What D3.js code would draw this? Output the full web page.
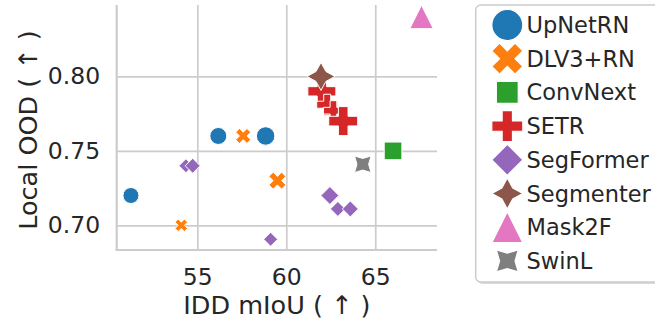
<!DOCTYPE html>
<html>
<head>
<meta charset="utf-8">
<script src="https://cdn.jsdelivr.net/npm/d3@7"></script>
<style>
  body { margin: 0; background: #fff; }
  svg { display: block; font-family: 'DejaVu Sans', sans-serif; }
</style>
</head>
<body>
<div id="svg-container"></div>
<script>
const models = ['UpNetRN', 'DLV3+RN', 'ConvNext', 'SETR', 'SegFormer', 'Segmenter', 'Mask2F', 'SwinL'];
const colors = ['#1f77b4', '#ff7f0e', '#2ca02c', '#d62728', '#9467bd', '#8c564b', '#e377c2', '#7f7f7f'];
const shapes = ['circle', 'x', 'square', 'plus', 'diamond', 'star', 'triangle', 'star45'];

// one entry per point
const pointModel = [0, 0, 0, 1, 1, 1, 2, 3, 3, 3, 3, 4, 4, 4, 4, 4, 4, 5, 6, 7];
const iddMiou = [51.27, 56.18, 58.84, 57.58, 59.5, 54.1, 66.0, 62.0, 62.3, 62.65, 63.2, 54.36, 54.74, 59.12, 62.45, 62.9, 63.6, 61.95, 67.6, 64.3];
const localOod = [0.72, 0.76, 0.76, 0.76, 0.73, 0.70, 0.75, 0.79, 0.781, 0.777, 0.77, 0.74, 0.74, 0.6906, 0.72, 0.711, 0.711, 0.80, 0.84, 0.741];
const markerSize = [16, 17, 18.5, 15, 17, 12.5, 25, 28, 21, 20, 29, 14, 15, 14, 18, 15, 16, 28, 23.5, 23.3];

const xTicks = [55, 60, 65];
const yTicks = [0.70, 0.75, 0.80];

const width = 655;
const height = 325;
const plot = { left: 116.7, right: 437, top: 5, bottom: 250 };

const svg = d3.select('#svg-container')
  .append('svg')
  .attr('width', width)
  .attr('height', height);

const xScale = d3.scaleLinear().domain([50.47, 68.47]).range([plot.left, plot.right]);
const yScale = d3.scaleLinear().domain([0.6834, 0.848]).range([plot.bottom, plot.top]);

// unit marker outlines (size 1 = full extent, like matplotlib markersize)
const polar = (n, r, start) => d3.range(n).map(i => {
  const a = start + i * 2 * Math.PI / n;
  return [r * Math.cos(a), -r * Math.sin(a)];
});
const starPts = (rot) => d3.range(8).map(i => {
  const a = Math.PI / 2 + rot + i * Math.PI / 4;
  const r = i % 2 === 0 ? 0.5 : 0.25;
  return [r * Math.cos(a), -r * Math.sin(a)];
});
const unitShapes = {
  square: polar(4, 0.5, Math.PI / 4),
  diamond: polar(4, 0.5, Math.PI / 2),
  triangle: [[0, -0.5], [-0.5, 0.5], [0.5, 0.5]],
  star: starPts(0),
  star45: starPts(Math.PI / 4),
  plus: [[-1, -3], [1, -3], [1, -1], [3, -1], [3, 1], [1, 1], [1, 3], [-1, 3], [-1, 1], [-3, 1], [-3, -1], [-1, -1]]
    .map(p => [p[0] / 6, p[1] / 6]),
  x: [[-1, -2], [0, -1], [1, -2], [2, -1], [1, 0], [2, 1], [1, 2], [0, 1], [-1, 2], [-2, 1], [-1, 0], [-2, -1]]
    .map(p => [p[0] / 4, p[1] / 4])
};

const markerPath = (shape, ms) => {
  if (shape === 'circle') {
    return d3.symbol(d3.symbolCircle, Math.PI * (ms / 2) * (ms / 2))();
  }
  return 'M' + unitShapes[shape].map(p => `${p[0] * ms},${p[1] * ms}`).join('L') + 'Z';
};

// grid via axes
const xAxis = svg.append('g')
  .attr('transform', `translate(0, ${plot.bottom})`)
  .call(d3.axisBottom(xScale).tickValues(xTicks).tickSize(-(plot.bottom - plot.top)).tickPadding(18));

const yAxis = svg.append('g')
  .attr('transform', `translate(${plot.left}, 0)`)
  .call(d3.axisLeft(yScale).tickValues(yTicks).tickFormat(d3.format('.2f'))
    .tickSize(-(plot.right - plot.left)).tickPadding(16.5));

[xAxis, yAxis].forEach(g => {
  g.select('.domain').remove();
  g.selectAll('.tick line').attr('stroke', '#cccccc').attr('stroke-width', 1.7);
  g.selectAll('.tick text')
    .attr('fill', '#262626')
    .style('font-size', '23.5px')
    .style('font-family', "'DejaVu Sans', sans-serif");
});

// left and bottom spines
svg.append('line')
  .attr('x1', plot.left).attr('x2', plot.left)
  .attr('y1', plot.top).attr('y2', plot.bottom + 1)
  .attr('stroke', '#cccccc').attr('stroke-width', 2.2);
svg.append('line')
  .attr('x1', plot.left - 1).attr('x2', plot.right)
  .attr('y1', plot.bottom).attr('y2', plot.bottom)
  .attr('stroke', '#cccccc').attr('stroke-width', 2.2);

// points
svg.append('g')
  .selectAll('path')
  .data(d3.range(iddMiou.length))
  .enter()
  .append('path')
  .attr('transform', i => `translate(${xScale(iddMiou[i])}, ${yScale(localOod[i])})`)
  .attr('d', i => markerPath(shapes[pointModel[i]], markerSize[i]))
  .attr('fill', i => colors[pointModel[i]])
  .attr('stroke', '#fff')
  .attr('stroke-width', 1)
  .attr('stroke-linejoin', 'miter');

// axis labels
svg.append('text')
  .attr('x', (plot.left + plot.right) / 2)
  .attr('y', 314)
  .attr('text-anchor', 'middle')
  .attr('fill', '#262626')
  .style('font-size', '25.5px')
  .text('IDD mIoU ( ↑ )');

svg.append('text')
  .attr('transform', 'translate(36.5, 130) rotate(-90)')
  .attr('text-anchor', 'middle')
  .attr('fill', '#262626')
  .style('font-size', '25.5px')
  .text('Local OOD ( ↑ )');

// legend
const legend = svg.append('g');
legend.append('rect')
  .attr('x', 477.5).attr('y', 7)
  .attr('width', 200).attr('height', 277)
  .attr('rx', 5)
  .attr('fill', '#d9d9d9');
legend.append('rect')
  .attr('x', 475.7).attr('y', 5)
  .attr('width', 200).attr('height', 277)
  .attr('rx', 5)
  .attr('fill', '#fff')
  .attr('stroke', '#cccccc')
  .attr('stroke-width', 1.5);

const rowY = i => 25 + i * 33.7;
const rows = legend.selectAll('.row')
  .data(models)
  .enter()
  .append('g')
  .attr('class', 'row');

rows.append('path')
  .attr('transform', (d, i) => `translate(507.3, ${rowY(i)})`)
  .attr('d', (d, i) => markerPath(shapes[i], 31))
  .attr('fill', (d, i) => colors[i])
  .attr('stroke', '#fff')
  .attr('stroke-width', 1.2);

rows.append('text')
  .attr('x', 526.5)
  .attr('y', (d, i) => rowY(i) + 8)
  .attr('fill', '#262626')
  .style('font-size', '22.5px')
  .text(d => d);
</script>
</body>
</html>
